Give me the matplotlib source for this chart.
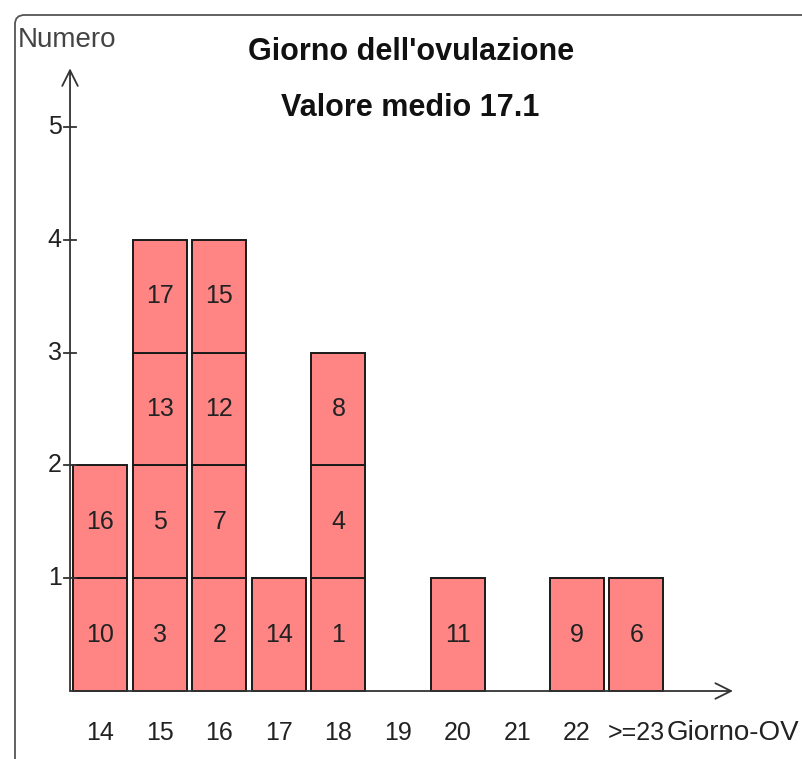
import matplotlib.pyplot as plt
from matplotlib.patches import FancyBboxPatch

# ovulation day categories and the cycle numbers stacked in each column
days = ["14", "15", "16", "17", "18", "19", "20", "21", "22", ">=23"]
cycles = [
    [10, 16],
    [3, 5, 13, 17],
    [2, 7, 12, 15],
    [14],
    [1, 4, 8],
    [],
    [11],
    [],
    [9],
    [6],
]
y_ticks = [1, 2, 3, 4, 5]
title = "Giorno dell'ovulazione"
subtitle = "Valore medio 17.1"

W, H = 802, 759
fig = plt.figure(figsize=(W / 100, H / 100), dpi=100)
plt.rcParams['font.family'] = ['Liberation Sans', 'DejaVu Sans']

# rounded frame running off the right and bottom edges
fig.patches.append(FancyBboxPatch((15 / W, -0.05), 1.0, 1 - 15 / H + 0.05,
                                  boxstyle="round,pad=0,rounding_size=0.012",
                                  transform=fig.transFigure, facecolor='none',
                                  edgecolor='#555555', linewidth=1.3))

# axes spanning the figure; one x unit = one day column, one y unit = one cycle
x0_px, dx_px = 100, 59.6
y0_px, dy_px = 691, 112.8
ax = fig.add_axes([0, 0, 1, 1])
ax.set_xlim(-x0_px / dx_px, (W - x0_px) / dx_px)
ax.set_ylim((y0_px - H) / dy_px, y0_px / dy_px)
ax.axis('off')

xa = -0.503
fs = 18
# stacked unit boxes
for i, col in enumerate(cycles):
    for k, c in enumerate(col):
        ax.bar(i, 1, bottom=k, width=0.905, color='#ff8585',
               edgecolor='#1a1a1a', linewidth=1.4, zorder=2)
        ax.text(i, k + 0.5, str(c), ha='center', va='center',
                fontsize=fs, color='#222222', zorder=3)

# axes with open arrow heads
ax.annotate('', xy=(xa, 5.52), xytext=(xa, 0),
            arrowprops=dict(arrowstyle='->', color='#333333', lw=1.3,
                            mutation_scale=28, shrinkA=0, shrinkB=0))
ax.annotate('', xy=(10.62, 0), xytext=(xa, 0),
            arrowprops=dict(arrowstyle='->', color='#333333', lw=1.3,
                            mutation_scale=28, shrinkA=0, shrinkB=0))

for t in y_ticks:
    ax.plot([xa - 0.1, xa + 0.1], [t, t], color='#333333', lw=1.3)
    ax.text(xa - 0.14, t, str(t), ha='right', va='center', fontsize=fs,
            color='#222222')

for i, d in enumerate(days):
    ax.text(i, -0.372, d, ha='center', va='center', fontsize=fs,
            color='#222222')

ax.text((18 - x0_px) / dx_px, (y0_px - 40) / dy_px, "Numero", ha='left',
        va='center', fontsize=20, color='#444444')
ax.text((667 - x0_px) / dx_px, -0.372, "Giorno-OV", ha='left', va='center',
        fontsize=20, color='#222222')

ax.text((411 - x0_px) / dx_px, (y0_px - 52) / dy_px, title, ha='center',
        va='center', fontsize=22, fontweight='bold', color='#111111')
ax.text((410 - x0_px) / dx_px, (y0_px - 108) / dy_px, subtitle, ha='center',
        va='center', fontsize=22, fontweight='bold', color='#111111')

fig.savefig('out.png', dpi=100)
